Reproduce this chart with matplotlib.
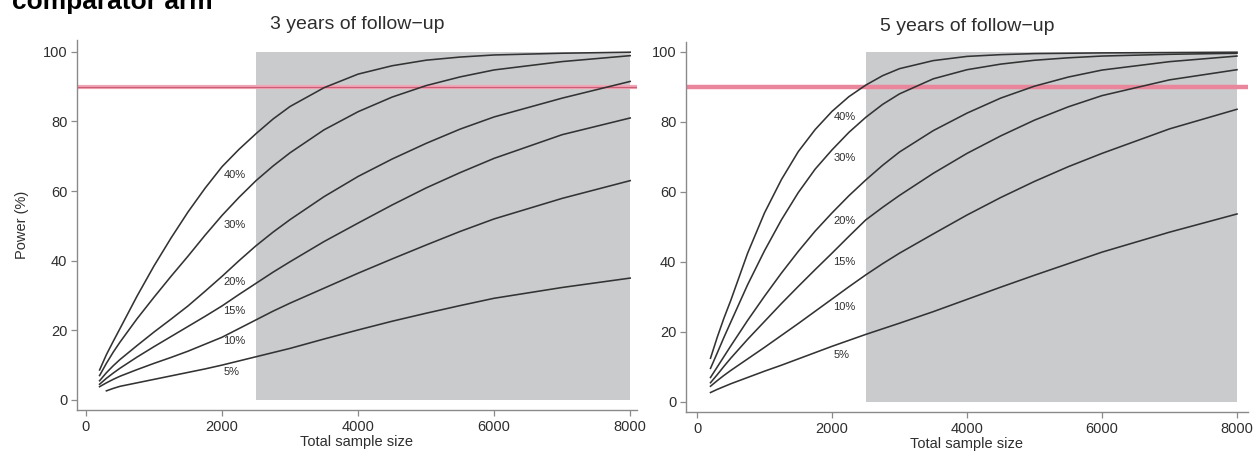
import matplotlib
matplotlib.use("Agg")
import matplotlib.pyplot as plt

# ---------------- data ----------------
effect_labels = ["40%", "30%", "20%", "15%", "10%", "5%"]

sample_sizes = [200, 300, 400, 500, 750, 1000, 1250, 1500, 1750, 2000, 2250, 2500,
                2750, 3000, 3500, 4000, 4500, 5000, 5500, 6000, 7000, 8000]
sample_sizes_5pct_3y = sample_sizes[1:]

power_3y_40 = [8.6, 13.0, 16.8, 20.5, 29.8, 38.5, 46.5, 54.0, 60.8, 67.0, 72.0, 76.5,
               80.7, 84.3, 89.7, 93.6, 96.0, 97.6, 98.5, 99.1, 99.6, 99.9]
power_3y_30 = [7.0, 10.5, 13.7, 16.6, 23.3, 29.5, 35.5, 41.3, 47.3, 53.0, 58.2, 63.0,
               67.2, 71.0, 77.6, 82.8, 87.0, 90.3, 92.8, 94.8, 97.2, 98.9]
power_3y_20 = [5.5, 7.8, 9.8, 11.6, 15.6, 19.5, 23.2, 27.0, 31.2, 35.5, 40.0, 44.3,
               48.2, 51.8, 58.4, 64.2, 69.2, 73.7, 77.8, 81.3, 86.7, 91.5]
power_3y_15 = [4.5, 6.2, 7.7, 9.1, 12.3, 15.3, 18.2, 21.1, 24.0, 27.0, 30.3, 33.5,
               36.7, 39.7, 45.5, 50.8, 56.0, 60.9, 65.3, 69.4, 76.2, 81.0]
power_3y_10 = [3.8, 4.9, 5.9, 6.8, 8.7, 10.5, 12.2, 14.0, 16.0, 18.0, 20.5, 23.0,
               25.5, 27.8, 32.1, 36.4, 40.5, 44.5, 48.4, 52.0, 57.9, 63.0]
power_3y_05 = [2.6, 3.3, 3.9, 4.9, 5.9, 6.9, 7.9, 8.9, 10.0, 11.2, 12.4,
               13.6, 14.8, 17.5, 20.1, 22.6, 24.9, 27.1, 29.2, 32.3, 35.0]

power_5y_40 = [12.5, 18.5, 24.0, 29.0, 42.5, 54.0, 63.5, 71.5, 77.8, 83.0, 87.2, 90.5,
               93.2, 95.2, 97.5, 98.7, 99.2, 99.5, 99.6, 99.7, 99.8, 99.9]
power_5y_30 = [9.6, 14.0, 18.5, 22.8, 33.5, 43.2, 52.0, 59.8, 66.5, 72.0, 77.0, 81.3,
               85.0, 88.0, 92.3, 94.9, 96.5, 97.6, 98.3, 98.8, 99.3, 99.6]
power_5y_20 = [7.0, 10.0, 13.0, 16.0, 23.3, 30.2, 36.8, 43.0, 48.8, 54.0, 58.9, 63.4,
               67.6, 71.4, 77.5, 82.5, 86.8, 90.2, 92.8, 94.8, 97.2, 98.8]
power_5y_15 = [5.5, 7.8, 10.2, 12.5, 17.9, 23.0, 28.1, 33.0, 37.8, 42.5, 47.3, 52.0,
               55.6, 59.0, 65.3, 71.0, 76.0, 80.5, 84.3, 87.5, 92.0, 94.9]
power_5y_10 = [4.5, 6.1, 7.6, 9.0, 12.3, 15.6, 19.0, 22.4, 25.9, 29.4, 32.9, 36.3,
               39.5, 42.5, 48.0, 53.4, 58.4, 63.0, 67.2, 71.0, 78.0, 83.6]
power_5y_05 = [2.7, 3.6, 4.4, 5.2, 7.0, 8.8, 10.5, 12.3, 14.1, 15.9, 17.6, 19.3,
               20.9, 22.5, 25.8, 29.3, 32.8, 36.2, 39.5, 42.8, 48.5, 53.7]

label_x = 2000
label_y_3y = [64.6, 50.3, 34.0, 25.4, 16.8, 8.1]
label_y_5y = [81.4, 69.7, 51.6, 40.1, 27.1, 13.4]

target_power = 90
shade_start, shade_end = 2500, 8000
shade_low, shade_high = 0, 100

x_ticks = [0, 2000, 4000, 6000, 8000]
y_ticks = [0, 20, 40, 60, 80, 100]

titles = ["3 years of follow\u2212up", "5 years of follow\u2212up"]
x_label = "Total sample size"
y_label = "Power (%)"
header = "comparator arm"

# ---------------- figure ----------------
plt.rcParams["font.family"] = ["Liberation Sans", "DejaVu Sans"]

W, H = 1256, 453
fig = plt.figure(figsize=(W / 100, H / 100), dpi=100)

def frac(l, t, r, b):
    return [l / W, 1 - b / H, (r - l) / W, (b - t) / H]

ax1 = fig.add_axes(frac(77, 40, 637, 410))
ax2 = fig.add_axes(frac(686, 41.7, 1248, 412))

panels = [
    (ax1, sample_sizes, [power_3y_40, power_3y_30, power_3y_20, power_3y_15, power_3y_10],
     power_3y_05, sample_sizes_5pct_3y, label_y_3y, (-132, 8100), (-2.9, 103.4)),
    (ax2, sample_sizes, [power_5y_40, power_5y_30, power_5y_20, power_5y_15, power_5y_10],
     power_5y_05, sample_sizes, label_y_5y, (-163, 8163), (-2.86, 102.9)),
]

line_col = "#333333"
spine_col = "#8a8a8a"
text_col = "#2e2e2e"

for i, (ax, xs, series, s5, xs5, ly, xl, yl) in enumerate(panels):
    ax.fill_between([shade_start, shade_end], shade_low, shade_high,
                    color="#c9cbcd", lw=0, zorder=1)
    if i == 0:
        ax.axhline(target_power, color="#f2a7b6", lw=3.0, zorder=2)
        ax.axhline(target_power, color="#cc5f78", lw=0.9, zorder=2.1)
    else:
        ax.axhline(target_power, color="#e9869b", lw=3.2, zorder=2)
    for ys in series:
        ax.plot(xs, ys, color=line_col, lw=1.15, zorder=3,
                solid_joinstyle="round")
    ax.plot(xs5, s5, color=line_col, lw=1.15, zorder=3, solid_joinstyle="round")
    for lab, yv in zip(effect_labels, ly):
        ax.text(label_x + 20, yv, lab, fontsize=8, color=text_col,
                ha="left", va="center", zorder=4)
    ax.set_xlim(*xl)
    ax.set_ylim(*yl)
    ax.set_xticks(x_ticks)
    ax.set_yticks(y_ticks)
    for s in ["top", "right"]:
        ax.spines[s].set_visible(False)
    for s in ["left", "bottom"]:
        ax.spines[s].set_color(spine_col)
        ax.spines[s].set_linewidth(1.0)
    ax.tick_params(direction="out", length=4, width=0.9, color=spine_col,
                   labelsize=10.5, labelcolor=text_col, pad=3)
    ax.set_xlabel(x_label, fontsize=10.5, color=text_col, labelpad=1)
    ax.set_title(titles[i], fontsize=14, color=text_col, pad=8)

ax1.set_ylabel(y_label, fontsize=10.5, color=text_col, labelpad=10)

fig.text(12 / W, 1 - 9 / H, header, fontsize=19, fontweight="bold",
         ha="left", va="baseline", color="black")

fig.savefig("out.png", dpi=100)
